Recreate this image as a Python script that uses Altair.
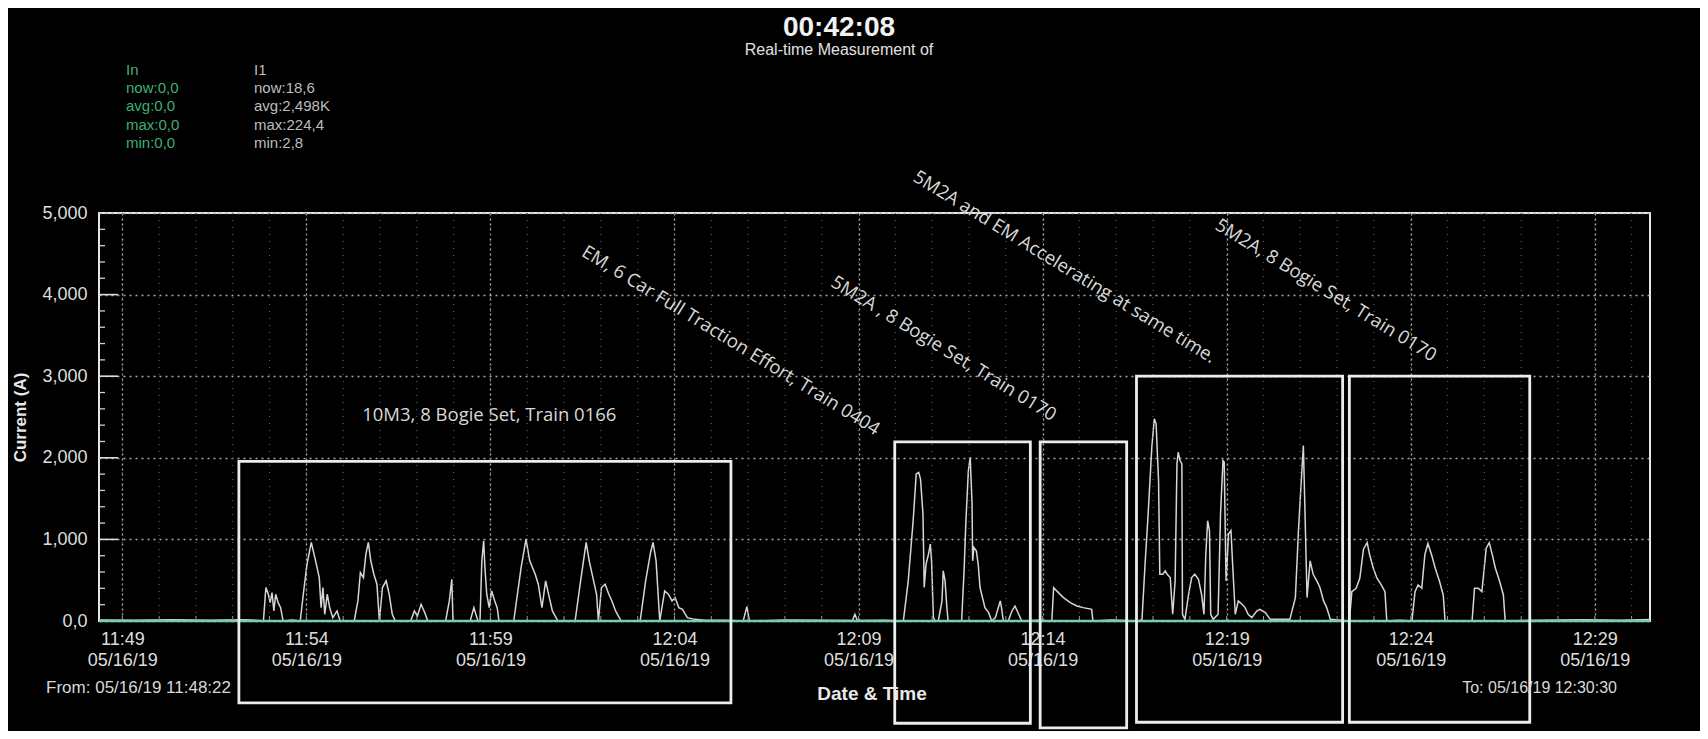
import altair as alt
import pandas as pd

START = pd.Timestamp("2019-05-16 11:48:22")

# ---- I1 trace: elapsed seconds since 11:48:22 and current (A) ----
lead_s = [0, 60, 120, 180, 240, 262]
lead_a = [12, 8, 15, 10, 14, 6]

box1_s = [268, 272, 276, 279, 282, 285, 288, 292, 296, 300, 315,
          328, 333, 339, 346, 353, 359, 362, 365, 368, 372, 376, 381, 388, 393,
          416, 422, 426, 431, 435, 439, 443, 448, 453, 457, 462, 468, 473, 478, 483,
          508, 514, 519, 525, 531, 536,
          565, 571, 575, 577, 605, 611, 616, 618,
          621, 624, 627, 629, 632, 636, 640, 645, 649, 652,
          676, 682, 688, 696, 702, 711, 716, 722, 728, 734, 739, 748,
          776, 785, 794, 799, 805, 811, 814, 819, 825, 831, 836, 842, 851,
          882, 891, 899, 903, 908, 914, 922, 928, 934, 939, 945, 951, 959, 971, 988]
box1_a = [0, 410, 328, 225, 348, 123, 328, 225, 164, 0, 12,
          0, 328, 696, 963, 737, 532, 164, 410, 82, 328, 164, 41, 123, 0,
          0, 246, 594, 532, 819, 963, 737, 573, 451, 0, 410, 492, 328, 82, 0,
          0, 123, 61, 205, 102, 0,
          0, 246, 512, 0, 0, 164, 41, 0,
          0, 737, 983, 655, 328, 164, 369, 246, 164, 0,
          0, 328, 655, 1004, 737, 573, 451, 164, 492, 287, 123, 0,
          0, 492, 963, 737, 532, 328, 0, 410, 451, 328, 246, 123, 0,
          0, 492, 840, 963, 737, 0, 369, 328, 246, 287, 164, 143, 41, 20, 8]

gap1_s = [1020, 1050, 1056, 1060, 1120, 1180, 1228, 1232, 1236, 1280]
gap1_a = [10, 0, 176, 0, 12, 8, 5, 82, 5, 10]

box2_s = [1311, 1319, 1327, 1332, 1336, 1339, 1343, 1345, 1348, 1352, 1355, 1357, 1360, 1363,
          1368, 1374, 1376, 1379, 1382, 1384,
          1406, 1410, 1413, 1417, 1420, 1423, 1424, 1426, 1430, 1433, 1436, 1440, 1444, 1450,
          1455, 1461, 1469, 1471, 1474, 1482, 1488, 1493, 1499, 1504, 1530]
box2_a = [0, 491, 1228, 1802, 1822, 1740, 1310, 410, 696, 819, 942, 737, 41, 0,
          0, 246, 614, 491, 164, 0,
          0, 614, 1228, 1843, 2006, 1433, 737, 901, 860, 696, 410, 287, 164, 102,
          0, 41, 246, 164, 0, 0, 123, 184, 82, 0, 10]

box3_s = [1553, 1556, 1561, 1572, 1583, 1594, 1604, 1618, 1620, 1650, 1695]
box3_a = [0, 410, 369, 287, 225, 184, 164, 143, 0, 12, 0]

box4_s = [1700, 1705, 1710, 1716, 1720, 1723, 1727, 1729, 1734, 1738, 1741, 1746, 1750,
          1754, 1757, 1759, 1762, 1765, 1766, 1770, 1776, 1781, 1786, 1792, 1797, 1801,
          1804, 1807, 1810, 1812, 1816, 1824, 1828, 1832, 1834, 1837, 1841, 1845, 1848,
          1852, 1857, 1863, 1868, 1873, 1879, 1887, 1892, 1901, 1909, 1925, 1941, 1950,
          1955, 1959, 1963, 1966, 1969, 1974, 1979, 1985, 1990, 1996, 2001, 2007]
box4_a = [20, 696, 1310, 2129, 2477, 2416, 1720, 573, 573, 614, 573, 532, 82,
          491, 1925, 2068, 1966, 1925, 82, 20, 328, 532, 573, 512, 328, 82,
          819, 1229, 1106, 82, 20, 82, 1310, 1966, 1945, 491, 1065, 1106, 655,
          82, 246, 205, 164, 82, 41, 123, 143, 102, 20, 20, 20, 287,
          1106, 1638, 2150, 1229, 287, 737, 573, 491, 410, 246, 164, 20]

box5_s = [2038, 2042, 2049, 2055, 2061, 2067, 2071, 2077, 2083, 2090, 2096, 2099, 2120,
          2140, 2145, 2150, 2156, 2161, 2166, 2172, 2178, 2185, 2191, 2194,
          2238, 2242, 2248, 2254, 2261, 2266, 2271, 2276, 2283, 2289, 2292]
box5_a = [0, 360, 401, 524, 880, 960, 811, 647, 524, 442, 360, 0, 10,
          0, 360, 442, 401, 811, 950, 811, 647, 483, 319, 0,
          0, 401, 401, 360, 893, 960, 811, 647, 483, 319, 0]

tail_s = [2350, 2420, 2480, 2528]
tail_a = [10, 14, 9, 19]

# ---- In trace (flat zero) ----
in_s = [0, 2528]
in_a = [0, 0]

# ---- annotation boxes ----
box_start_s = [228, 1297, 1534, 1691, 2038]
box_end_s = [1030, 1518, 1675, 2027, 2332]
box_top_a = [1957, 2195, 2195, 3001, 3001]
box_bottom_a = [-1004, -1253, -1310, -1241, -1241]

# ---- annotation notes ----
flat_note = "10M3, 8 Bogie Set, Train 0166"
flat_note_s = 429
flat_note_a = 2530
slant_notes = ["EM, 6 Car Full Traction Effort, Train 0404",
               "5M2A , 8 Bogie Set, Train 0170",
               "5M2A and EM Accelerating at same time.",
               "5M2A, 8 Bogie Set, Train 0170"]
slant_notes_s = [1030, 1377, 1574, 2000]
slant_notes_a = [3440, 3340, 4340, 4055]

# ---- axis ticks ----
major_ticks = ["11:49", "11:54", "11:59", "12:04", "12:09", "12:14", "12:19", "12:24", "12:29"]
minute_marks = [f"{h:02d}:{m:02d}" for h, m in
                [(11, mm) for mm in range(49, 60)] + [(12, mm) for mm in range(0, 31)]]
y_major = [0, 1000, 2000, 3000, 4000, 5000]
y_minor = [v for v in range(200, 5000, 200) if v % 1000]
y_mid = [1000, 2000, 3000, 4000]

in_labels = ["In", "now:0,0", "avg:0,0", "max:0,0", "min:0,0"]
i1_labels = ["I1", "now:18,6", "avg:2,498K", "max:224,4", "min:2,8"]


def ts(secs):
    return START + pd.to_timedelta(secs, unit="s")


def dt(hhmm, sec=0):
    h, m = hhmm.split(":")
    return alt.DateTime(year=2019, month=5, date=16, hours=int(h), minutes=int(m), seconds=sec)


W, H = 1551, 408
FONT = "Liberation Sans"
NOTE_FONT = "Open Sans"

xs = alt.Scale(domain=[dt("11:48", 22), dt("12:30", 30)], nice=False)
ys = alt.Scale(domain=[0, 5000], nice=False, zero=False)

trace_s = lead_s + box1_s + gap1_s + box2_s + box3_s + box4_s + box5_s + tail_s
trace_a = lead_a + box1_a + gap1_a + box2_a + box3_a + box4_a + box5_a + tail_a
i1_df = pd.DataFrame({"t": ts(trace_s), "a": trace_a})
in_df = pd.DataFrame({"t": ts(in_s), "a": in_a})

x_axis = alt.Axis(
    values=[dt(v) for v in major_ticks],
    labelExpr="[timeFormat(datum.value, '%H:%M'), timeFormat(datum.value, '%m/%d/%y')]",
    labelFlush=False, labelOverlap=False, labelBound=False,
    labelFont=FONT, labelFontSize=18, labelLineHeight=21, labelColor="#dedede",
    labelPadding=9, ticks=False, domain=False,
    grid=True, gridColor="#b0b0b0", gridDash=[2, 3], gridWidth=1.3,
    title="Date & Time", titleFont=FONT, titleFontSize=19, titleFontWeight="bold",
    titleColor="#e8e8e8", titleX=W / 2 - 3, titleY=72, titleBaseline="middle", titleAlign="center",
)
y_axis = alt.Axis(
    values=y_major,
    labelExpr="datum.value == 0 ? '0,0' : format(datum.value, ',')",
    labelFont=FONT, labelFontSize=18, labelColor="#dedede", labelPadding=12,
    ticks=False, domain=False,
    grid=True, gridColor="#a8a8a8", gridDash=[2, 4], gridWidth=1.3,
    title="Current (A)", titleFont=FONT, titleFontSize=17, titleFontWeight="bold",
    titleColor="#e8e8e8", titleAngle=270, titleX=-79, titleY=H / 2,
    titleAlign="center", titleBaseline="middle",
)

minute_df = pd.DataFrame({"t": [pd.Timestamp("2019-05-16 " + m + ":00") for m in minute_marks]})
minor_grid = alt.Chart(minute_df).mark_rule(
    color="#5a5a5a", strokeDash=[1, 6], strokeWidth=1.2
).encode(x=alt.X("t:T", scale=xs), y=alt.value(0), y2=alt.value(H))

x_small_ticks = alt.Chart(minute_df).mark_rule(color="#9a9a9a", strokeWidth=1).encode(
    x=alt.X("t:T", scale=xs), y=alt.value(H), y2=alt.value(H - 5))

y_minor_ticks = alt.Chart(pd.DataFrame({"a": y_minor})).mark_rule(color="#cfcfcf", strokeWidth=1.3).encode(
    y=alt.Y("a:Q", scale=ys), x=alt.value(0), x2=alt.value(6))
y_major_ticks = alt.Chart(pd.DataFrame({"a": y_mid})).mark_rule(color="#dcdcdc", strokeWidth=1.6).encode(
    y=alt.Y("a:Q", scale=ys), x=alt.value(0), x2=alt.value(19))

i1_line = alt.Chart(i1_df).mark_line(color="#d6d6d6", strokeWidth=1.5, interpolate="linear").encode(
    x=alt.X("t:T", scale=xs, axis=x_axis),
    y=alt.Y("a:Q", scale=ys, axis=y_axis),
)
in_line = alt.Chart(in_df).mark_line(color="#74cdb0", strokeWidth=2.4).encode(
    x=alt.X("t:T", scale=xs), y=alt.Y("a:Q", scale=ys))

boxes_df = pd.DataFrame({"t": ts(box_start_s), "t2": ts(box_end_s), "a": box_top_a, "a2": box_bottom_a})
boxes = alt.Chart(boxes_df).mark_rect(filled=False, stroke="#ececec", strokeWidth=2.8).encode(
    x=alt.X("t:T", scale=xs), x2="t2:T", y=alt.Y("a:Q", scale=ys), y2="a2:Q")

flat_df = pd.DataFrame({"t": ts([flat_note_s]), "a": [flat_note_a], "txt": [flat_note]})
flat_text = alt.Chart(flat_df).mark_text(
    align="left", baseline="middle", font=NOTE_FONT, fontSize=18.5, color="#d8d8d8"
).encode(x=alt.X("t:T", scale=xs), y=alt.Y("a:Q", scale=ys), text="txt:N")

slant_df = pd.DataFrame({"t": ts(slant_notes_s), "a": slant_notes_a, "txt": slant_notes})
slant_text = alt.Chart(slant_df).mark_text(
    align="center", baseline="middle", angle=31.5, font=NOTE_FONT, fontSize=18.5, color="#d8d8d8"
).encode(x=alt.X("t:T", scale=xs), y=alt.Y("a:Q", scale=ys), text="txt:N")


def screen_text(lines, x, y, **kw):
    return alt.Chart(pd.DataFrame({"k": [0]})).mark_text(text=lines, **kw).encode(
        x=alt.value(x), y=alt.value(y))


title = screen_text("00:42:08", 740, -185, font=FONT, fontSize=28, fontWeight="bold",
                    color="#f2f2f2", align="center", baseline="middle")
subtitle = screen_text("Real-time Measurement of", 740, -163, font=FONT, fontSize=16,
                       color="#e0e0e0", align="center", baseline="middle")
stats_in = screen_text(in_labels, 27, -143, font=FONT, fontSize=15, lineHeight=18.2,
                       color="#3fae78", align="left", baseline="middle")
stats_i1 = screen_text(i1_labels, 155, -143, font=FONT, fontSize=15, lineHeight=18.2,
                       color="#bdbdbd", align="left", baseline="middle")
from_text = screen_text("From: 05/16/19 11:48:22", 132, 475, font=FONT, fontSize=17,
                        color="#d8d8d8", align="right", baseline="middle")
to_text = screen_text("To: 05/16/19 12:30:30", 1518, 475, font=FONT, fontSize=16,
                      color="#d8d8d8", align="right", baseline="middle")

chart = alt.layer(
    i1_line, minor_grid, x_small_ticks, y_minor_ticks, y_major_ticks, in_line, boxes,
    flat_text, slant_text, title, subtitle, stats_in, stats_i1, from_text, to_text,
).properties(
    width=W, height=H,
    autosize=alt.AutoSizeParams(type="none"),
    padding={"left": 91, "top": 205, "right": 50, "bottom": 110},
    background="#000000",
).configure_view(stroke="#e6e6e6", strokeWidth=2)

chart.save("out.html", embed_options={"renderer": "svg", "actions": False})
